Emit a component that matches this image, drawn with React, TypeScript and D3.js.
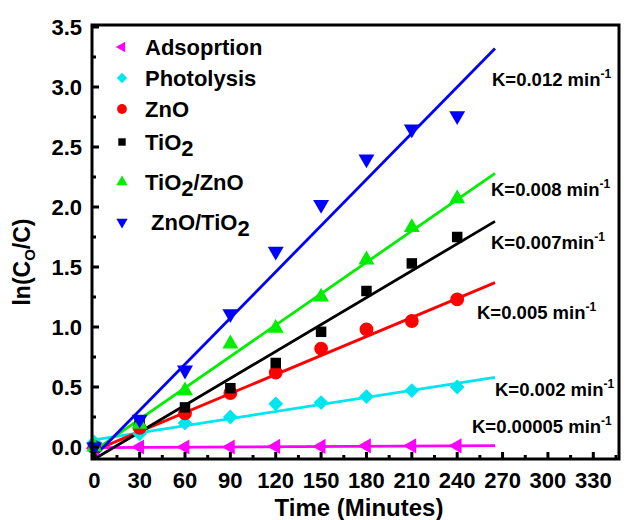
import React from "react";
import * as d3 from "d3";

// sampling times (minutes)
const times = [0, 30, 60, 90, 120, 150, 180, 210, 240];

const adsorption = [-0.01, 0.0, 0.0, 0.0, 0.005, 0.005, 0.01, 0.01, 0.01];
const photolysis = [0.04, 0.11, 0.2, 0.25, 0.36, 0.37, 0.42, 0.47, 0.5];
const zno = [0.0, 0.16, 0.28, 0.45, 0.62, 0.82, 0.98, 1.05, 1.23];
const tio2 = [0.0, 0.21, 0.33, 0.49, 0.7, 0.96, 1.3, 1.53, 1.75];
const tio2Zno = [0.0, 0.19, 0.47, 0.86, 0.99, 1.25, 1.56, 1.83, 2.07];
const znoTio2 = [0.0, 0.23, 0.64, 1.11, 1.63, 2.02, 2.4, 2.65, 2.76];

// fitted lines: value at t=0 and at t=265
const fitX = [0, 265];
const fitAdsorption = [-0.005, 0.012];
const fitPhotolysis = [0.06, 0.58];
const fitZno = [-0.03, 1.37];
const fitTio2 = [-0.1, 1.88];
const fitTio2Zno = [-0.03, 2.28];
const fitZnoTio2 = [-0.08, 3.32];

const rateLabels = ["K=0.00005 min", "K=0.002 min", "K=0.005 min", "K=0.007min", "K=0.008 min", "K=0.012 min"];

const xTicks = [0, 30, 60, 90, 120, 150, 180, 210, 240, 270, 300, 330];
const yTicks = [0, 0.5, 1, 1.5, 2, 2.5, 3, 3.5];

type Series = {
  name: string;
  values: number[];
  fit: number[];
  color: string;
  symbol: d3.SymbolType;
  size: number;
  rotate: number;
  label: string;
  labelX: number;
  labelY: number;
};

const series: Series[] = [
  { name: "Adsoprtion", values: adsorption, fit: fitAdsorption, color: "#ff00ff", symbol: d3.symbolTriangle, size: 100, rotate: -90, label: rateLabels[0], labelX: 472, labelY: 433 },
  { name: "Photolysis", values: photolysis, fit: fitPhotolysis, color: "#00e5ee", symbol: d3.symbolSquare, size: 110, rotate: 45, label: rateLabels[1], labelX: 495, labelY: 396 },
  { name: "ZnO", values: zno, fit: fitZno, color: "#ff0000", symbol: d3.symbolCircle, size: 150, rotate: 0, label: rateLabels[2], labelX: 477, labelY: 319 },
  { name: "TiO2", values: tio2, fit: fitTio2, color: "#000000", symbol: d3.symbolSquare, size: 110, rotate: 0, label: rateLabels[3], labelX: 491, labelY: 249 },
  { name: "TiO2/ZnO", values: tio2Zno, fit: fitTio2Zno, color: "#00ee00", symbol: d3.symbolTriangle, size: 110, rotate: 0, label: rateLabels[4], labelX: 491, labelY: 196 },
  { name: "ZnO/TiO2", values: znoTio2, fit: fitZnoTio2, color: "#0000ff", symbol: d3.symbolTriangle, size: 110, rotate: 180, label: rateLabels[5], labelX: 492, labelY: 86 },
];

const legendY = [47, 78, 109, 142, 182, 222];

const W = 626;
const H = 520;
const left = 92;
const right = 619;
const top = 25;
const bottom = 459;
const font = "'Liberation Sans', Arial, sans-serif";

function Name({ name }: { name: string }) {
  // render chemical subscripts
  const parts = name.split(/(2)/);
  return (
    <>
      {parts.map((p, i) =>
        p === "2" ? (
          <tspan key={i} fontSize={22} dy={6}>2</tspan>
        ) : (
          <tspan key={i} dy={i > 0 && parts[i - 1] === "2" ? -6 : 0}>{p}</tspan>
        )
      )}
    </>
  );
}

export default function App() {
  const x = d3.scaleLinear().domain([-1.5, 347]).range([left, right]);
  const y = d3.scaleLinear().domain([-0.1, 3.5]).range([bottom, top + 2]);
  const line = d3.line<number>().x((_, i) => x(fitX[i])).y((d) => y(d));

  const xMinor = d3.range(15, 346, 30);
  const yMinor = d3.range(0.25, 3.5, 0.5);

  return (
    <svg width={W} height={H} style={{ position: "absolute", left: 0, top: 0 }} fontFamily={font} fontWeight="bold">
      <rect width={W} height={H} fill="#fff" />

      {/* fitted lines */}
      {series.map((s) => (
        <path key={s.name + "fit"} d={line(s.fit) || ""} fill="none" stroke={s.color} strokeWidth={2.8} />
      ))}

      {/* data markers */}
      {series.map((s) => (
        <g key={s.name + "pts"} fill={s.color}>
          {s.values.map((v, i) => (
            <path
              key={i}
              d={d3.symbol(s.symbol, s.size)() || ""}
              transform={`translate(${x(times[i])},${y(v)}) rotate(${s.rotate})`}
            />
          ))}
        </g>
      ))}

      {/* frame */}
      <rect x={left} y={top} width={right - left} height={bottom - top} fill="none" stroke="#000" strokeWidth={3} />

      {/* ticks */}
      {xTicks.map((t) => (
        <line key={"xt" + t} x1={x(t)} x2={x(t)} y1={bottom} y2={bottom - 7} stroke="#000" strokeWidth={3} />
      ))}
      {xMinor.map((t) => (
        <line key={"xm" + t} x1={x(t)} x2={x(t)} y1={bottom} y2={bottom - 4} stroke="#000" strokeWidth={3} />
      ))}
      {yTicks.map((t) => (
        <line key={"yt" + t} x1={left} x2={left + 7} y1={y(t)} y2={y(t)} stroke="#000" strokeWidth={3} />
      ))}
      {yMinor.map((t) => (
        <line key={"ym" + t} x1={left} x2={left + 4} y1={y(t)} y2={y(t)} stroke="#000" strokeWidth={3} />
      ))}

      {/* tick labels */}
      {xTicks.map((t) => (
        <text key={"xl" + t} x={x(t)} y={488} textAnchor="middle" fontSize={22}>{t}</text>
      ))}
      {yTicks.map((t) => (
        <text key={"yl" + t} x={82} y={y(t) + 8} textAnchor="end" fontSize={22}>{t.toFixed(1)}</text>
      ))}

      {/* axis titles */}
      <text x={359} y={516} textAnchor="middle" fontSize={24}>Time (Minutes)</text>
      <text transform="translate(30,262) rotate(-90)" textAnchor="middle" fontSize={23}>
        ln(C<tspan fontSize={15} dy={5}>O</tspan><tspan dy={-5}>/C)</tspan>
      </text>

      {/* legend */}
      {series.map((s, i) => (
        <g key={s.name + "leg"}>
          <path
            d={d3.symbol(s.symbol, s.size * 0.5)() || ""}
            transform={`translate(122,${legendY[i]}) rotate(${s.rotate})`}
            fill={s.color}
          />
          <text x={i === 5 ? 151 : 145} y={legendY[i] + 8} fontSize={22}>
            <Name name={s.name} />
          </text>
        </g>
      ))}

      {/* rate constants */}
      {series.map((s) => (
        <text key={s.name + "k"} x={s.labelX} y={s.labelY} fontSize={18.5}>
          {s.label}
          <tspan fontSize={12} dy={-8}>-1</tspan>
        </text>
      ))}
    </svg>
  );
}
